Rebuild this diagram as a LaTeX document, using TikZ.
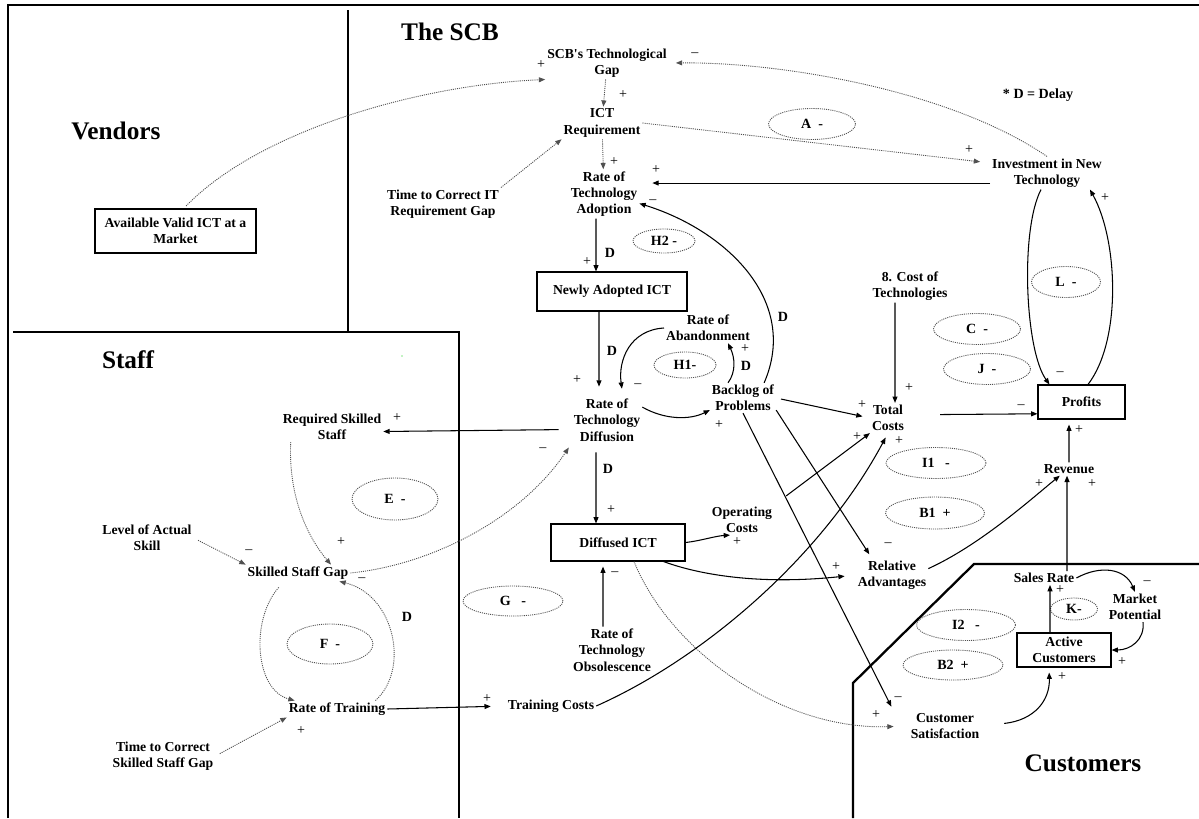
\documentclass[tikz,border=0pt]{standalone}
\usepackage{fontspec}
\setmainfont{Liberation Serif}
\usepackage{tikz}
\usetikzlibrary{arrows.meta,shapes.geometric}
\definecolor{cInk}{HTML}{000000}
\definecolor{cDot}{HTML}{505050}
\definecolor{cSpot}{HTML}{00CC00}
\tikzset{
  var/.style={font=\fontsize{7.8}{9.3}\selectfont\bfseries, align=center, inner sep=1pt, text=cInk},
  stock/.style={var, draw=cInk, line width=0.6pt, inner sep=2pt},
  loopmark/.style={ellipse, draw=cDot, line width=0.5pt, dash pattern=on 0.6pt off 0.6pt,
    inner sep=0pt, font=\fontsize{8}{9}\selectfont\bfseries},
  pol/.style={font=\fontsize{8}{9}\selectfont, inner sep=0pt},
  delaymark/.style={font=\fontsize{8}{9}\selectfont\bfseries, inner sep=0pt},
  zone/.style={font=\fontsize{14.4}{16}\selectfont\bfseries, inner sep=0pt},
  border/.style={line width=1.3pt, cInk},
}
\tikzset{
  link/.style={-{Triangle[length=3.6pt,width=2.8pt]}, line width=0.6pt, cInk},
  dlink/.style={link, draw=cDot, line width=0.5pt, dash pattern=on 0.6pt off 0.6pt},
}

\begin{document}
\begin{tikzpicture}[x=0.02cm, y=-0.02cm]
  \useasboundingbox (0,0) rectangle (1199,818);
  \draw[border] (8,818) -- (8,5) -- (1199,5);
  \draw[border] (348,10) -- (348,331);
  \draw[border] (13,332) -- (459,332) -- (459,818);
  \draw[border] (1199,564) -- (974,564) -- (853,683) -- (853,818);
  \fill[cSpot] (402,356) circle (0.4pt);

  \node[zone] (vendors) at (116,131) {Vendors};
  \node[zone] (scb) at (450,32) {The SCB};
  \node[zone] (staff) at (128,360) {Staff};
  \node[zone] (customers) at (1083,763) {Customers};
  \node[delaymark] (note) at (1038,95) {* D = Delay};

  \node[stock, minimum width=3.22cm, minimum height=0.88cm] (avm) at (175.5,231) {Available Valid ICT at a\\Market};
  \node[var] (gap) at (607,63) {SCB\textquotesingle s Technological\\Gap};
  \node[var] (req) at (602,123) {ICT\\Requirement};
  \node[var] (rta) at (604,194) {Rate of\\Technology\\Adoption};
  \node[var] (tci) at (443,204) {Time to Correct IT\\Requirement Gap};
  \node[var] (inv) at (1047,173) {Investment in New\\Technology};
  \node[stock, minimum width=3cm, minimum height=0.78cm] (nai) at (612,291.5) {Newly Adopted ICT};
  \node[var] (rab) at (708,328) {Rate of\\Abandonment};
  \node[var] (bop) at (743,398) {Backlog of\\Problems};
  \node[var] (rtd) at (607,420) {Rate of\\Technology\\Diffusion};
  \node[stock, minimum width=2.68cm, minimum height=0.74cm] (dic) at (618,542.5) {Diffused ICT};
  \node[var] (opc) at (742,520) {Operating\\Costs};
  \node[var] (rto) at (612,650) {Rate of\\Technology\\Obsolescence};
  \node[var] (trc) at (551,706) {Training Costs};
  \node[var] (rtr) at (337,709) {Rate of Training};
  \node[var] (tcs) at (163,756) {Time to Correct\\Skilled Staff Gap};
  \node[var] (ssg) at (298,573) {Skilled Staff Gap};
  \node[var] (rss) at (332,427) {Required Skilled\\Staff};
  \node[var] (las) at (147,538) {Level of Actual\\Skill};
  \node[var] (cot) at (910,286) {8. Cost of\\Technologies};
  \node[stock, minimum width=1.74cm, minimum height=0.68cm] (pro) at (1081.5,402) {Profits};
  \node[var] (toc) at (888,418) {Total\\Costs};
  \node[var] (rev) at (1069,469) {Revenue};
  \node[var] (rad) at (892,575) {Relative\\Advantages};
  \node[var] (sar) at (1044,578) {Sales Rate};
  \node[var] (mkp) at (1135,607) {Market\\Potential};
  \node[stock, minimum width=1.88cm, minimum height=0.68cm] (acu) at (1064,650) {Active\\Customers};
  \node[var] (csa) at (945,726) {Customer\\Satisfaction};

  \foreach \n/\x/\y/\w/\h/\t in {lA/812/124/1.74/0.62/{A\ \ -}, lHb/664/241/1.24/0.48/{H2 -},
      lHa/685/365/1.24/0.52/{H1-}, lE/395/499/1.72/0.84/{E\ \ -}, lF/330/644/1.72/0.80/{F\ \ -},
      lG/513/601/2.0/0.6/{G\ \ \ -}, lL/1066/282/1.38/0.62/{L\ \ -}, lC/977/329/1.74/0.62/{C\ \ -},
      lJ/987/369/1.74/0.62/{J\ \ -}, lIa/936/463/2.0/0.62/{I1\ \ \ -}, lBa/935/513/1.98/0.64/{B1\ \ +},
      lIb/966/625/1.98/0.62/{I2\ \ \ -}, lBb/953/665/2.0/0.6/{B2\ \ +}, lK/1074/609/0.94/0.44/{K-}}
    \node[loopmark, minimum width=\w cm, minimum height=\h cm] (\n) at (\x,\y) {\t};

  \draw[dlink, shorten <=2pt] (avm.70) .. controls (260,130) and (420,85) .. (gap.south west);
  \draw[dlink, shorten >=4pt] (inv.north) .. controls (950,90) and (780,62) .. (gap.east);
  \draw[dlink] (gap) -- (req);
  \draw[dlink] (req) -- (rta);
  \draw[dlink] (tci.north east) -- (req.south west);
  \draw[dlink, shorten >=2mm] (req.east) -- (inv.170);
  \draw[dlink] ([xshift=2mm]rss.south west) .. controls (288,500) and (310,540) .. ([xshift=6.6mm]ssg.north);
  \draw[dlink, shorten >=1mm] (ssg.east) .. controls (430,565) and (520,520) .. (rtd.south west);
  \draw[dlink, shorten <=1mm] (las.east) -- (ssg.north west);
  \draw[dlink, shorten <=1.6mm] ([xshift=-2.8mm]ssg.south) .. controls (250,620) and (255,690) .. ([xshift=1.6mm]rtr.north west);
  \draw[dlink] ([xshift=-2.4mm]rtr.north east) .. controls (410,670) and (395,595) .. ([xshift=-2.2mm]ssg.south east);
  \draw[dlink, shorten <=1mm] (tcs.east) -- (rtr.south west);
  \draw[dlink, shorten >=3mm] ([xshift=3.2mm]dic.south) .. controls (670,650) and (780,730) .. (csa.west);

  \draw[link, shorten >=2.6mm] (inv.190) -- (inv.190 -| rta.east);
  \draw[link] ([xshift=-2.4mm]bop.north east) .. controls (800,300) and (725,230) .. (rta.-15);
  \draw[link] ([xshift=-1.6mm]rta.south) -- ([xshift=-3.2mm]nai.north);
  \draw[link, shorten >=2mm] ([xshift=-2.6mm]nai.south) -- ([xshift=-1.6mm]rtd.north);
  \draw[link, shorten >=1.6mm] (rab.west) .. controls (630,330) and (618,360) .. ([xshift=3.2mm]rtd.north);
  \draw[link] ([xshift=-3mm]bop.north) .. controls (736,372) and (735,358) .. ([xshift=4mm]rab.south);
  \draw[link] (rtd.20) .. controls (665,420) and (690,420) .. (bop.200);
  \draw[link, shorten <=1mm, shorten >=1.5mm] (bop.east) -- (toc.west);
  \draw[link, shorten >=1mm] (bop.-20) -- ([xshift=-4mm]rad.north);
  \draw[link, shorten >=1mm] (bop.south) -- ([xshift=-3mm]csa.north west);
  \draw[link, shorten <=3mm] (opc.north east) -- (toc.south west);
  \draw[link, shorten >=1mm] (trc.east) .. controls (700,660) and (820,560) .. (toc.south);
  \draw[link] (dic.east) .. controls (700,541) and (715,536) .. ([xshift=-2.4mm]opc.south);
  \draw[link, shorten >=2.2mm] ([xshift=-4.4mm]dic.south east) .. controls (700,575) and (760,585) .. (rad.west);
  \draw[link, shorten >=1mm] ([xshift=-1.8mm]rto.north) -- ([xshift=-3mm]dic.south);
  \draw[link, shorten <=1.8mm] ([xshift=-2.2mm]rtd.south) -- ([xshift=-4.4mm]dic.north);
  \draw[link, shorten <=2.6mm] (rtd.195) -- (rss.-5);
  \draw[link, shorten >=3mm] (rtr.east) -- (trc.west);
  \draw[link] ([xshift=-3mm]cot.south) -- ([xshift=1.4mm]toc.north);
  \draw[link, shorten <=6.8mm] (toc.10) -- (pro.195);
  \draw[link] ([xshift=-1.2mm]inv.south) .. controls (1020,230) and (1025,350) .. ([xshift=2.4mm]pro.north west);
  \draw[link] ([xshift=1.3mm]pro.north) .. controls (1122,340) and (1118,240) .. ([xshift=-2.8mm]inv.south east);
  \draw[link, shorten >=1mm] (rev.north) -- ([xshift=-2.5mm]pro.south);
  \draw[link] (rad.10) .. controls (980,545) and (1030,500) .. ([xshift=3.6mm]rev.south west);
  \draw[link] ([xshift=4.6mm]sar.north) -- ([xshift=-0.4mm]rev.south);
  \draw[link] ([xshift=-2.8mm]acu.north) -- ([xshift=1.2mm]sar.south);
  \draw[link] (sar.east) .. controls (1100,565) and (1125,568) .. (mkp.north);
  \draw[link] ([xshift=1.6mm]mkp.south) .. controls (1145,640) and (1130,650) .. (acu.east);
  \draw[link, shorten <=4.6mm, shorten >=1mm] (csa.east) .. controls (1035,720) and (1050,700) .. ([xshift=-3mm]acu.south);

  \foreach \x/\y/\s [count=\i] in {541/65/+, 695/55/\textendash, 623/95/+, 614/162/+, 969/150/+,
      656/170/+, 653/202/\textendash, 587/262/+, 577/380/+, 638/386/\textendash, 745/349/+,
      719/425/+, 862/405/+, 888/545/\textendash, 898/699/\textendash, 857/437/+, 899/441/+,
      737/542/+, 836/567/+, 876/715/+, 615/574/\textendash, 611/510/+, 397/418/+, 341/542/+,
      543/450/\textendash, 249/552/\textendash, 362/580/\textendash, 301/731/+, 487/699/+,
      909/388/+, 1021/407/\textendash, 1060/374/\textendash, 1105/198/+, 1079/430/+,
      1039/484/+, 1092/484/+, 1060/590/+, 1147/583/\textendash, 1122/662/+, 1062/677/+}
    \node[pol] (p\i) at (\x,\y) {\s};
  \foreach \x/\y [count=\i] in {610/253, 612/351, 746/366, 783/317, 608/469, 407/617}
    \node[delaymark] (d\i) at (\x,\y) {D};
\end{tikzpicture}
\end{document}
